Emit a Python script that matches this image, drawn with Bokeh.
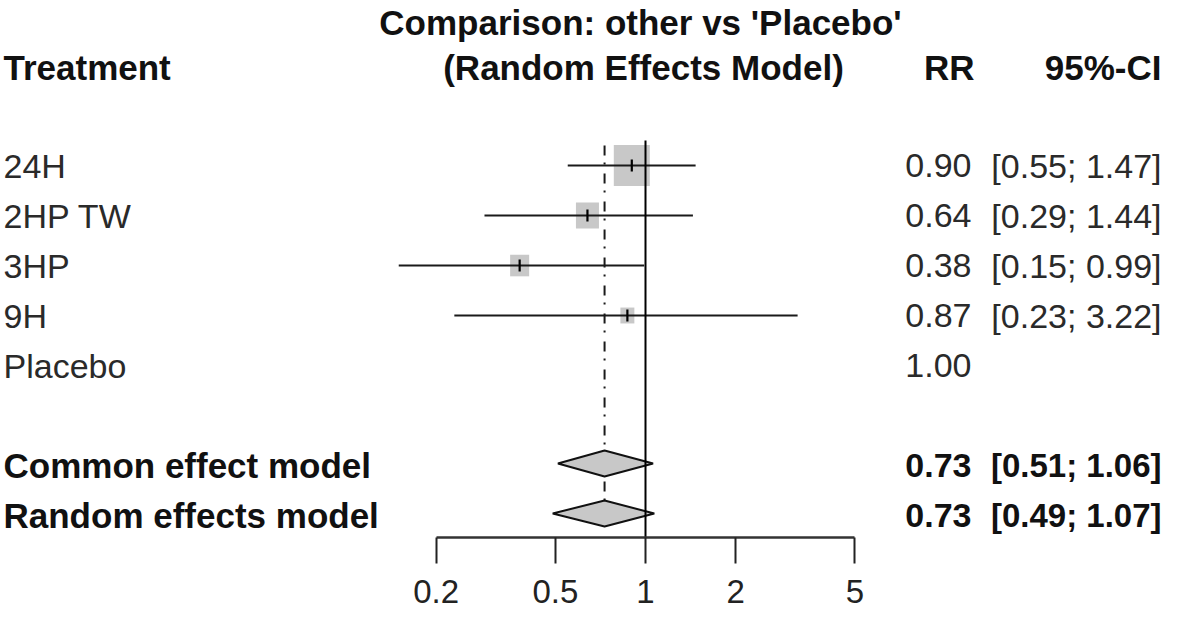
import math
from bokeh.plotting import figure
from bokeh.models import Range1d, FixedTicker, LinearScale
from bokeh.core.properties import value
from bokeh.embed import file_html
from bokeh.resources import INLINE

# ---------------- data ----------------
TREATMENTS = ["24H", "2HP TW", "3HP", "9H", "Placebo"]
RR = [0.90, 0.64, 0.38, 0.87, 1.00]
LOWER = [0.55, 0.29, 0.15, 0.23, None]
UPPER = [1.47, 1.44, 0.99, 3.22, None]
WEIGHT = [54.4, 22.2, 15.2, 8.2, 0.0]

SUMMARY = ["Common effect model", "Random effects model"]
SUM_RR = [0.73, 0.73]
SUM_LO = [0.51, 0.49]
SUM_HI = [1.06, 1.07]

TICKS = [0.2, 0.5, 1, 2, 5]
TICK_LABELS = ["0.2", "0.5", "1", "2", "5"]

TITLE1 = "Comparison: other vs 'Placebo'"
TITLE2 = "(Random Effects Model)"
HEAD_LEFT = "Treatment"
HEAD_RR = "RR"
HEAD_CI = "95%-CI"

# ---------------- layout ----------------
W, H = 1163, 618
FRAME_H = 537
FONT = "Liberation Sans"
FS = "34px"
FSB = "35px"
PX_PER_DECADE = 299.5
X_ONE = 645.0  # frame px of RR = 1
xmin = 10 ** (-X_ONE / PX_PER_DECADE)
xmax = 10 ** ((W - X_ONE) / PX_PER_DECADE)
# rows: row r centred at 165 + 50 (r - 1) px from the top
Y_TOP = (0 - 165) / 50 + 1
Y_BOT = (FRAME_H - 165) / 50 + 1

p = figure(width=W, height=H, x_axis_type="log", output_backend="svg",
           toolbar_location=None, x_range=Range1d(xmin, xmax),
           y_range=Range1d(Y_BOT, Y_TOP),
           min_border_left=0, min_border_right=0, min_border_top=0,
           min_border_bottom=H - FRAME_H)
p.extra_x_ranges = {"px": Range1d(0, W)}
p.extra_x_scales = {"px": LinearScale()}
p.yaxis.visible = False
p.xgrid.visible = False
p.ygrid.visible = False
p.outline_line_color = None
p.background_fill_color = "white"
p.border_fill_color = "white"

rows = list(range(1, len(TREATMENTS) + 1))
sum_rows = [len(TREATMENTS) + 2 + i for i in range(len(SUMMARY))]

# squares (area proportional to weight)
sq_idx = [i for i in range(len(TREATMENTS)) if WEIGHT[i] > 0]
sq_w = [36.0 * math.sqrt(WEIGHT[i] / max(WEIGHT)) for i in sq_idx]
sq_h = [w * 41.0 / 36.0 for w in sq_w]
p.rect(x=[RR[i] for i in sq_idx], y=[rows[i] for i in sq_idx],
       width=sq_w, height=sq_h, width_units="screen", height_units="screen",
       fill_color="#c8c8c8", line_color=None)

# confidence intervals
ci_idx = [i for i in range(len(TREATMENTS)) if LOWER[i] is not None]
p.segment(x0=[LOWER[i] for i in ci_idx], x1=[UPPER[i] for i in ci_idx],
          y0=[rows[i] for i in ci_idx], y1=[rows[i] for i in ci_idx],
          line_color="#1a1a1a", line_width=2.2)
p.scatter(x=[RR[i] for i in sq_idx], y=[rows[i] for i in sq_idx],
          marker="dash", size=12, angle=math.pi / 2,
          line_color="black", line_width=2.2)

# random effects dash-dot line
p.segment(x0=[SUM_RR[1]], x1=[SUM_RR[1]], y0=[0.6], y1=[sum_rows[1] - 0.3],
          line_color="#1a1a1a", line_width=2, line_dash="10 7 2 9")

# diamonds
hh = 0.26
xs = [[SUM_LO[i], SUM_RR[i], SUM_HI[i], SUM_RR[i]] for i in range(len(SUMMARY))]
ys = [[sum_rows[i] - 0.04, sum_rows[i] - 0.04 - hh, sum_rows[i] - 0.04, sum_rows[i] - 0.04 + hh]
      for i in range(len(SUMMARY))]
p.patches(xs, ys, fill_color="#c8c8c8", line_color="#111111", line_width=2)

# reference line at 1
p.segment(x0=[1], x1=[1], y0=[0.5], y1=[Y_BOT], line_color="black", line_width=2)

# ---------------- texts ----------------
def txt(x, y, t, align="left", bold=False, color="#111111", fs=None):
    size = fs if fs is not None else (FSB if bold else FS)
    p.text(x=x, y=y, text=t, x_range_name="px", text_align=align,
           text_baseline="middle", text_font=value(FONT),
           text_font_size=value(size), text_color=color,
           text_font_style="bold" if bold else "normal")

RR_X = 971
CI_X = 1161
txt([640], [-1.86], [TITLE1], align="center", bold=True)
txt([643], [-0.96], [TITLE2], align="center", bold=True)
txt([3], [-0.96], [HEAD_LEFT], bold=True)
txt([RR_X + 3], [-0.96], [HEAD_RR], align="right", bold=True)
txt([CI_X], [-0.96], [HEAD_CI], align="right", bold=True)

txt([3] * len(TREATMENTS), rows, TREATMENTS, color="#2a2a2a")
txt([RR_X] * len(TREATMENTS), rows, [f"{v:.2f}" for v in RR], align="right", color="#2a2a2a")
ci_txt = [f"[{LOWER[i]:.2f}; {UPPER[i]:.2f}]" for i in ci_idx]
txt([CI_X] * len(ci_idx), [rows[i] for i in ci_idx], ci_txt, align="right", color="#2a2a2a")

txt([3] * len(SUMMARY), sum_rows, SUMMARY, bold=True)
txt([RR_X] * len(SUMMARY), sum_rows, [f"{v:.2f}" for v in SUM_RR], align="right", bold=True, fs=FS)
txt([CI_X] * len(SUMMARY), sum_rows,
    [f"[{SUM_LO[i]:.2f}; {SUM_HI[i]:.2f}]" for i in range(len(SUMMARY))],
    align="right", bold=True, fs="33px")

# ---------------- axis ----------------
ax = p.xaxis[0]
ax.ticker = FixedTicker(ticks=TICKS)
ax.major_label_overrides = {t: l for t, l in zip(TICKS, TICK_LABELS)}
ax.bounds = (min(TICKS), max(TICKS))
ax.axis_line_color = "#333333"
ax.axis_line_width = 2.5
ax.major_tick_line_color = "#222222"
ax.major_tick_line_width = 2
ax.major_tick_out = 26
ax.major_tick_in = 0
ax.minor_tick_out = 0
ax.minor_tick_in = 0
ax.major_label_standoff = 16
ax.major_label_text_font = FONT
ax.major_label_text_font_size = "33px"
ax.major_label_text_color = "#222222"

open("out.html", "w").write(file_html(p, INLINE))
